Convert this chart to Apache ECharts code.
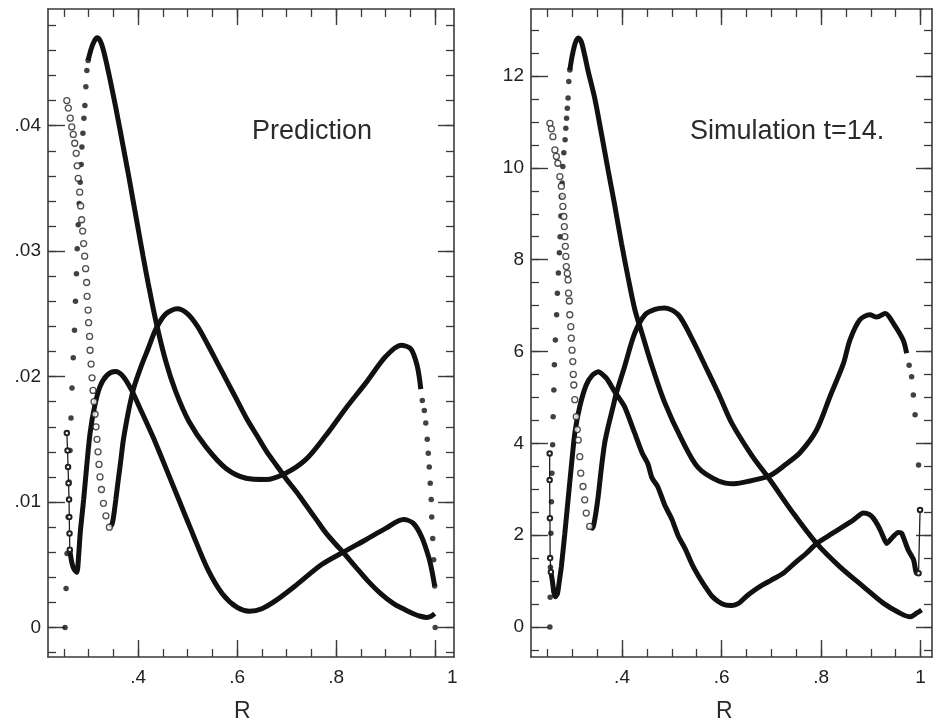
<!DOCTYPE html>
<html><head><meta charset="utf-8">
<script src="https://cdn.jsdelivr.net/npm/echarts@6/dist/echarts.min.js"></script>
<style>html,body{margin:0;padding:0;background:#fff}#c{width:933px;height:726px}</style>
</head><body><div id="c"></div>
<script>
// ---------- Prediction panel (left) ----------
const predA_rise = [[0.2525,0],[0.2545,0.0031],[0.2565,0.0059],[0.2585,0.0088],[0.2605,0.0116],[0.2625,0.0141],[0.2645,0.0167],[0.2665,0.0191],[0.2690,0.0215],[0.2715,0.0237],[0.2735,0.0260],[0.2755,0.0282],[0.2770,0.0302],[0.2790,0.0321],[0.2810,0.0338],[0.2830,0.0355],[0.2850,0.0369],[0.2865,0.0383],[0.2885,0.0394],[0.2905,0.0406],[0.2925,0.0416],[0.2945,0.0431],[0.2965,0.0444],[0.2990,0.0452]];
const predA_main = [[0.2990,0.0452],[0.305,0.0461],[0.311,0.0467],[0.317,0.0470],[0.323,0.0468],[0.330,0.0460],[0.340,0.0443],[0.350,0.0424],[0.360,0.0404],[0.370,0.0383],[0.380,0.0362],[0.390,0.0340],[0.400,0.0318],[0.410,0.0296],[0.420,0.0275],[0.436,0.0244],[0.456,0.0212],[0.476,0.0188],[0.503,0.0164],[0.537,0.0144],[0.577,0.0127],[0.618,0.0119],[0.658,0.0118],[0.698,0.0123],[0.739,0.0134],[0.779,0.0153],[0.820,0.0175],[0.860,0.0195],[0.900,0.0216],[0.931,0.0225],[0.951,0.0222],[0.964,0.0208],[0.971,0.0190]];
const predA_fall = [[0.974,0.0181],[0.978,0.0173],[0.981,0.0163],[0.984,0.0150],[0.986,0.0139],[0.988,0.0128],[0.990,0.0115],[0.992,0.0102],[0.993,0.0088],[0.995,0.0071],[0.997,0.0054],[0.999,0.0033],[1.000,0.0000]];
const predB_fall = [[0.256,0.0420],[0.259,0.0414],[0.263,0.0406],[0.266,0.0399],[0.269,0.0393],[0.272,0.0386],[0.275,0.0378],[0.277,0.0368],[0.279,0.0358],[0.282,0.0347],[0.284,0.0336],[0.286,0.0325],[0.288,0.0316],[0.290,0.0306],[0.292,0.0296],[0.294,0.0286],[0.296,0.0275],[0.297,0.0264],[0.299,0.0253],[0.300,0.0243],[0.302,0.0232],[0.303,0.0221],[0.305,0.0210],[0.307,0.0199],[0.309,0.0189],[0.311,0.0180],[0.313,0.0170],[0.315,0.0160],[0.317,0.0150],[0.319,0.0140],[0.321,0.0130],[0.323,0.0120],[0.326,0.0110],[0.330,0.0099],[0.335,0.0089],[0.342,0.0080]];
const predB_main = [[0.342,0.0080],[0.347,0.0082],[0.351,0.0090],[0.355,0.0102],[0.360,0.0118],[0.365,0.0133],[0.370,0.0149],[0.377,0.0165],[0.384,0.0179],[0.392,0.0192],[0.405,0.0207],[0.420,0.0222],[0.436,0.0238],[0.456,0.0250],[0.479,0.0254],[0.500,0.0250],[0.520,0.0240],[0.540,0.0226],[0.560,0.0211],[0.580,0.0196],[0.600,0.0181],[0.620,0.0166],[0.640,0.0153],[0.660,0.0140],[0.680,0.0129],[0.700,0.0118],[0.720,0.0108],[0.740,0.0097],[0.760,0.0086],[0.780,0.0075],[0.800,0.0066],[0.814,0.0060],[0.840,0.0048],[0.862,0.0038],[0.890,0.0027],[0.916,0.0019],[0.940,0.0014],[0.956,0.0011],[0.970,0.0009],[0.983,0.0008],[0.992,0.0009],[0.999,0.0011]];
const predC_edge = [[0.256,0.0155],[0.2575,0.0141],[0.2585,0.0128],[0.2595,0.0115],[0.2605,0.0102],[0.261,0.0088],[0.2615,0.0075],[0.262,0.0062]];
const predC_main = [[0.262,0.0062],[0.266,0.0052],[0.270,0.0047],[0.276,0.0044],[0.280,0.0058],[0.283,0.0075],[0.290,0.0102],[0.296,0.0128],[0.303,0.0155],[0.312,0.0176],[0.323,0.0192],[0.337,0.0201],[0.354,0.0204],[0.370,0.0200],[0.387,0.0189],[0.407,0.0172],[0.430,0.0152],[0.450,0.0133],[0.480,0.0104],[0.510,0.0075],[0.540,0.0047],[0.570,0.0027],[0.600,0.0016],[0.625,0.0013],[0.650,0.0015],[0.680,0.0022],[0.720,0.0034],[0.770,0.0050],[0.814,0.0060],[0.860,0.0070],[0.900,0.0079],[0.936,0.0086],[0.956,0.0083],[0.973,0.0072],[0.987,0.0056],[0.993,0.0046],[0.999,0.0033]];

// ---------- Simulation panel (right) ----------
const simA_rise = [[0.2550,0],[0.2555,0.65],[0.2560,1.30],[0.2570,2.04],[0.2580,2.73],[0.2590,3.35],[0.2605,3.97],[0.2615,4.58],[0.2630,5.16],[0.2640,5.71],[0.2660,6.25],[0.2685,6.80],[0.2700,7.27],[0.2720,7.71],[0.2740,8.15],[0.2755,8.50],[0.2770,8.95],[0.2780,9.37],[0.2795,9.67],[0.2810,10.03],[0.2830,10.33],[0.2855,10.61],[0.2870,10.86],[0.2885,11.08],[0.2900,11.30],[0.2915,11.52],[0.2930,11.88],[0.2950,12.13]];
const simA_main = [[0.2950,12.13],[0.300,12.45],[0.306,12.72],[0.312,12.83],[0.318,12.75],[0.325,12.45],[0.332,12.10],[0.345,11.52],[0.359,10.72],[0.372,9.95],[0.385,9.20],[0.399,8.35],[0.412,7.62],[0.426,6.90],[0.440,6.40],[0.460,5.69],[0.486,4.88],[0.520,4.08],[0.553,3.47],[0.594,3.18],[0.625,3.12],[0.657,3.18],[0.6975,3.30],[0.730,3.55],[0.758,3.80],[0.791,4.29],[0.818,5.02],[0.845,5.74],[0.858,6.25],[0.878,6.69],[0.898,6.80],[0.912,6.75],[0.929,6.83],[0.945,6.62],[0.965,6.25],[0.972,5.96]];
const simA_fall = [[0.977,5.70],[0.982,5.45],[0.9855,5.05],[0.989,4.62],[0.996,3.53]];
const simB_fall = [[0.255,10.97],[0.258,10.85],[0.261,10.68],[0.265,10.39],[0.268,10.25],[0.271,10.10],[0.275,9.81],[0.278,9.60],[0.280,9.38],[0.281,9.16],[0.283,8.94],[0.284,8.72],[0.285,8.50],[0.286,8.29],[0.287,8.07],[0.288,7.85],[0.290,7.70],[0.2915,7.56],[0.2925,7.27],[0.294,7.10],[0.295,6.80],[0.297,6.54],[0.298,6.29],[0.2995,6.03],[0.301,5.78],[0.302,5.50],[0.303,5.27],[0.305,4.95],[0.308,4.58],[0.310,4.30],[0.312,4.07],[0.315,3.71],[0.317,3.35],[0.3215,3.06],[0.325,2.77],[0.328,2.48],[0.335,2.19]];
const simB_main = [[0.335,2.19],[0.340,2.15],[0.345,2.33],[0.352,2.84],[0.358,3.42],[0.365,4.00],[0.372,4.36],[0.382,4.80],[0.3885,5.09],[0.405,5.67],[0.4255,6.40],[0.446,6.80],[0.466,6.92],[0.486,6.95],[0.513,6.80],[0.540,6.29],[0.567,5.69],[0.594,5.08],[0.620,4.45],[0.660,3.75],[0.6975,3.20],[0.744,2.48],[0.791,1.82],[0.838,1.31],[0.885,0.88],[0.925,0.52],[0.959,0.30],[0.979,0.22],[0.992,0.30],[1.002,0.37]];
const simC_edge = [[0.2545,3.78],[0.2545,3.20],[0.2550,2.37],[0.2555,1.50],[0.2570,1.20]];
const simC_main = [[0.2570,1.20],[0.260,1.00],[0.263,0.75],[0.266,0.66],[0.270,0.72],[0.274,1.00],[0.278,1.31],[0.285,2.04],[0.2915,2.77],[0.298,3.49],[0.305,4.22],[0.315,4.80],[0.328,5.27],[0.340,5.48],[0.352,5.56],[0.3685,5.42],[0.385,5.13],[0.405,4.80],[0.4255,4.22],[0.440,3.80],[0.452,3.55],[0.460,3.25],[0.472,3.05],[0.486,2.65],[0.500,2.35],[0.513,1.98],[0.527,1.70],[0.540,1.38],[0.553,1.12],[0.567,0.88],[0.580,0.68],[0.594,0.55],[0.607,0.48],[0.621,0.47],[0.635,0.52],[0.645,0.62],[0.657,0.73],[0.680,0.90],[0.700,1.02],[0.724,1.17],[0.750,1.42],[0.770,1.60],[0.791,1.82],[0.820,2.02],[0.845,2.19],[0.865,2.33],[0.885,2.48],[0.897,2.45],[0.905,2.37],[0.915,2.20],[0.922,2.04],[0.932,1.82],[0.945,1.97],[0.955,2.06],[0.962,2.04],[0.975,1.68],[0.986,1.46],[0.992,1.17],[0.996,1.17]];
const simC_end = [[0.996,1.17],[0.999,2.55]];

// ---------- tick values ----------
const xMajor = [0.4,0.6,0.8,1.0];
const xMinor = [0.25,0.30,0.35,0.40,0.45,0.50,0.55,0.60,0.65,0.70,0.75,0.80,0.85,0.90,0.95,1.00];
const predYMajor = [0,0.01,0.02,0.03,0.04];
const predYMinor = [-0.002,0,0.002,0.004,0.006,0.008,0.010,0.012,0.014,0.016,0.018,0.020,0.022,0.024,0.026,0.028,0.030,0.032,0.034,0.036,0.038,0.040,0.042,0.044,0.046,0.048];
const simYMajor = [0,2,4,6,8,10,12];
const simYMinor = [-0.5,0,0.5,1,1.5,2,2.5,3,3.5,4,4.5,5,5.5,6,6.5,7,7.5,8,8.5,9,9.5,10,10.5,11,11.5,12,12.5,13];

const predXRange = [0.218, 1.038], predYRange = [-0.00235, 0.0493];
const simXRange = [0.217, 1.023], simYRange = [-0.654, 13.46];

const INK = '#111', FRAME = '#3a3a3a', FONT = 'Liberation Sans';

function axesFor(dim, grid, range, major, minor, labelFmt) {
  const isX = dim === 'x';
  const posA = isX ? 'bottom' : 'left', posB = isX ? 'top' : 'right';
  const base = {type:'value', gridIndex:grid, min:range[0], max:range[1], splitLine:{show:false}};
  const line = {show:true, onZero:false, lineStyle:{color:FRAME, width:1.6}};
  const noLine = {show:false, onZero:false};
  return [
    Object.assign({}, base, {position:posA, axisLine:line,
      axisTick:{show:true, inside:true, length:17, customValues:major, lineStyle:{color:FRAME, width:1.4}},
      axisLabel:{show:true, customValues:major, formatter:labelFmt, margin: isX ? 11 : 7,
        color:'#222', fontFamily:FONT, fontSize:19, rich:{s:{padding:[0,0,0,34], fontFamily:FONT, fontSize:19, color:'#222'}}}}),
    Object.assign({}, base, {position:posA, axisLine:noLine,
      axisTick:{show:true, inside:true, length:8, customValues:minor, lineStyle:{color:FRAME, width:1.3}},
      axisLabel:{show:false}}),
    Object.assign({}, base, {position:posB, axisLine:line,
      axisTick:{show:true, inside:true, length:16, customValues:major, lineStyle:{color:FRAME, width:1.4}},
      axisLabel:{show:false}}),
    Object.assign({}, base, {position:posB, axisLine:noLine,
      axisTick:{show:true, inside:true, length:8, customValues:minor, lineStyle:{color:FRAME, width:1.3}},
      axisLabel:{show:false}})
  ];
}

const predXFmt = v => Math.abs(v-1) < 1e-9 ? '{s|1}' : '.' + Math.round(v*10);
const simXFmt = v => Math.abs(v-1) < 1e-9 ? '1' : '.' + Math.round(v*10);
const predYFmt = v => Math.abs(v) < 1e-12 ? '0' : '.0' + Math.round(v*100);
const simYFmt = v => String(Math.round(v));

const xAxes = axesFor('x',0,predXRange,xMajor,xMinor,predXFmt).concat(axesFor('x',1,simXRange,xMajor,xMinor,simXFmt));
const yAxes = axesFor('y',0,predYRange,predYMajor,predYMinor,predYFmt).concat(axesFor('y',1,simYRange,simYMajor,simYMinor,simYFmt));

function lineS(g, data, w, smooth) {
  return {type:'line', xAxisIndex:g*4, yAxisIndex:g*4, data:data, showSymbol:false, smooth:smooth,
    lineStyle:{color:INK, width:w}, silent:true, animation:false, z:3};
}
function dotS(g, data) {
  return {type:'scatter', xAxisIndex:g*4, yAxisIndex:g*4, data:data, symbol:'circle', symbolSize:5.5,
    itemStyle:{color:INK}, silent:true, animation:false, z:4};
}
function ringS(g, data) {
  return {type:'scatter', xAxisIndex:g*4, yAxisIndex:g*4, data:data, symbol:'circle', symbolSize:6,
    itemStyle:{color:'#fff', borderColor:'#222', borderWidth:1.3}, silent:true, animation:false, z:4};
}
function thinS(g, data) {
  return {type:'line', xAxisIndex:g*4, yAxisIndex:g*4, data:data, showSymbol:true, symbol:'emptyCircle', symbolSize:4.5,
    itemStyle:{color:'#222', borderWidth:1.2}, lineStyle:{color:'#222', width:1.3}, silent:true, animation:false, z:4};
}

const series = [
  dotS(0, predA_rise), lineS(0, predA_main, 5, 0.3), dotS(0, predA_fall),
  ringS(0, predB_fall), lineS(0, predB_main, 5, 0.3),
  thinS(0, predC_edge), lineS(0, predC_main, 5, 0.3),
  dotS(1, simA_rise), lineS(1, simA_main, 5, 0.3), dotS(1, simA_fall),
  ringS(1, simB_fall), lineS(1, simB_main, 5, 0.3),
  thinS(1, simC_edge), lineS(1, simC_main, 5, 0.2), thinS(1, simC_end)
];

const textStyle = {fill:'#2a2a2a', fontFamily:FONT, fontSize:27};
const option = {
  backgroundColor:'#fff',
  animation:false,
  grid:[
    {left:48, top:9, width:406, height:648},
    {left:531, top:9, width:401, height:648}
  ],
  xAxis:xAxes,
  yAxis:yAxes,
  series:series,
  graphic:[
    {type:'text', left:252, top:118, style:Object.assign({text:'Prediction'}, textStyle)},
    {type:'text', left:690, top:118, style:Object.assign({text:'Simulation t=14.'}, textStyle)},
    {type:'text', left:234, top:700, style:{text:'R', fill:'#2a2a2a', fontFamily:FONT, fontSize:23}},
    {type:'text', left:716, top:700, style:{text:'R', fill:'#2a2a2a', fontFamily:FONT, fontSize:23}}
  ]
};
const chart = echarts.init(document.getElementById('c'), null, {renderer:'canvas'});
chart.setOption(option);
</script></body></html>
